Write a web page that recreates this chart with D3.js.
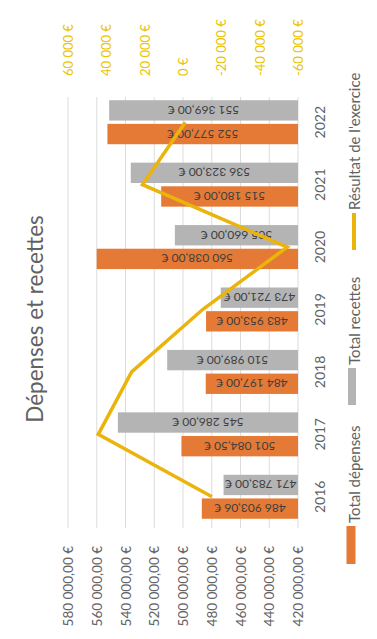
<!DOCTYPE html>
<html>
<head>
<meta charset="utf-8">
<script src="https://cdn.jsdelivr.net/npm/d3@7"></script>
<style>
  html, body { margin: 0; padding: 0; background: #ffffff; }
  svg { display: block; font-family: Lato, "Open Sans", sans-serif; }
</style>
</head>
<body>
<svg id="chart" width="377" height="639"></svg>
<script>
// Annual figures
const years = ["2016", "2017", "2018", "2019", "2020", "2021", "2022"];
const depenses = [486903.06, 501084.50, 484197.00, 483953.00, 560038.00, 515180.00, 552577.00];
const recettes = [471783.00, 545286.00, 510989.00, 473721.00, 505660.00, 536323.00, 551369.00];
const resultat = [-15120.06, 44201.50, 26792.00, -10232.00, -54378.00, 21143.00, -1208.00];

// Axis ticks
const primaryTicks = [420000, 440000, 460000, 480000, 500000, 520000, 540000, 560000, 580000];
const secondaryTicks = [-60000, -40000, -20000, 0, 20000, 40000, 60000];

const seriesNames = ["Total dépenses", "Total recettes", "Résultat de l'exercice"];
const title = "Dépenses et recettes";

const colors = { dep: "#e47a35", rec: "#b4b4b4", res: "#ebb40c", text: "#626262", sec: "#ecc400" };

const fr = d3.formatLocale({ decimal: ",", thousands: "\u00a0", grouping: [3], currency: ["", "\u00a0€"], minus: "-" });
const fmt2 = fr.format("$,.2f");
const fmt0 = fr.format("$,.0f");

const svg = d3.select("#chart");

// The chart is laid out turned a quarter turn: values run right to left, years bottom to top.
const x = d3.scaleLinear().domain([420000, 580000]).range([298, 68]);
const x2 = d3.scaleLinear().domain([-60000, 60000]).range([298, 68]);
const y = d3.scaleBand().domain(years).range([528, 91]);
const ySub = d3.scaleBand().domain(["rec", "dep"]).range([0, 44]).paddingInner(0.14);
const groupTop = d => y(d) + y.bandwidth() / 2 - 22;

// Gridlines
svg.append("g").selectAll("line").data(primaryTicks).join("line")
  .attr("x1", d => x(d)).attr("x2", d => x(d))
  .attr("y1", 97).attr("y2", 528)
  .attr("stroke", "#dcdcdc").attr("stroke-width", 1);

// Bars
const bars = [
  { key: "dep", values: depenses, color: colors.dep },
  { key: "rec", values: recettes, color: colors.rec }
];
bars.forEach(s => {
  const g = svg.append("g");
  g.selectAll("rect").data(years).join("rect")
    .attr("x", (d, i) => x(s.values[i]))
    .attr("width", (d, i) => x(420000) - x(s.values[i]))
    .attr("y", d => groupTop(d) + ySub(s.key))
    .attr("height", ySub.bandwidth())
    .attr("fill", s.color);
  g.selectAll("text").data(years).join("text")
    .each(function (d, i) {
      const cx = (x(s.values[i]) + x(420000)) / 2;
      const cy = groupTop(d) + ySub(s.key) + ySub.bandwidth() / 2;
      d3.select(this)
        .attr("x", cx).attr("y", cy)
        .attr("transform", `rotate(180, ${cx}, ${cy})`)
        .text(fmt2(s.values[i]));
    })
    .attr("text-anchor", "middle")
    .attr("dominant-baseline", "central")
    .attr("font-size", 12)
    .attr("fill", "#404040");
});

// Result line on the secondary scale
const line = d3.line()
  .x((d, i) => x2(d))
  .y((d, i) => y(years[i]) + y.bandwidth() / 2);
svg.append("path")
  .datum(resultat)
  .attr("d", line)
  .attr("fill", "none")
  .attr("stroke", colors.res)
  .attr("stroke-width", 3.5)
  .attr("stroke-linejoin", "miter");

// Primary value axis (below the plot)
const axP = svg.append("g").attr("transform", "translate(0,542)")
  .call(d3.axisBottom(x).tickValues(primaryTicks).tickFormat(fmt2).tickSize(0));
axP.select(".domain").remove();
axP.selectAll("text")
  .attr("transform", "rotate(-90)")
  .attr("x", -4).attr("y", 0).attr("dy", "0.35em")
  .attr("text-anchor", "end")
  .attr("font-family", "Lato, sans-serif")
  .attr("font-size", 13.5)
  .attr("fill", colors.text);

// Secondary value axis (above the plot)
const axS = svg.append("g").attr("transform", "translate(0,76)")
  .call(d3.axisTop(x2).tickValues(secondaryTicks).tickFormat(fmt0).tickSize(0));
axS.select(".domain").remove();
axS.selectAll("text")
  .attr("transform", "rotate(-90)")
  .attr("x", 0).attr("y", 0).attr("dy", "0.35em")
  .attr("text-anchor", "start")
  .attr("font-family", "Lato, sans-serif")
  .attr("font-size", 13)
  .attr("fill", colors.sec);

// Year axis (right of the bars)
const axY = svg.append("g").attr("transform", "translate(320,0)")
  .call(d3.axisRight(y).tickSize(0));
axY.select(".domain").remove();
axY.selectAll("text")
  .attr("transform", "rotate(-90)")
  .attr("x", 0).attr("y", 0).attr("dy", "0.35em")
  .attr("text-anchor", "middle")
  .attr("font-family", "Lato, sans-serif")
  .attr("font-size", 14)
  .attr("fill", colors.text);

// Title
svg.append("text")
  .attr("transform", "translate(34,319) rotate(-90)")
  .attr("text-anchor", "middle")
  .attr("dominant-baseline", "central")
  .attr("font-size", 22.5)
  .attr("fill", colors.text)
  .text(title);

// Legend
const legend = [
  { name: seriesNames[0], color: colors.dep, top: 526, len: 38, w: 9, cx: 351 },
  { name: seriesNames[1], color: colors.rec, top: 368, len: 37, w: 8, cx: 352 },
  { name: seriesNames[2], color: colors.res, top: 213, len: 37, w: 4, cx: 354 }
];
const lg = svg.append("g");
legend.forEach(l => {
  lg.append("rect")
    .attr("x", l.cx - l.w / 2).attr("y", l.top)
    .attr("width", l.w).attr("height", l.len)
    .attr("fill", l.color);
  lg.append("text")
    .attr("transform", `translate(${354},${l.top - 3}) rotate(-90)`)
    .attr("text-anchor", "start")
    .attr("dominant-baseline", "central")
    .attr("font-size", 15)
    .attr("fill", colors.text)
    .text(l.name);
});
</script>
</body>
</html>
